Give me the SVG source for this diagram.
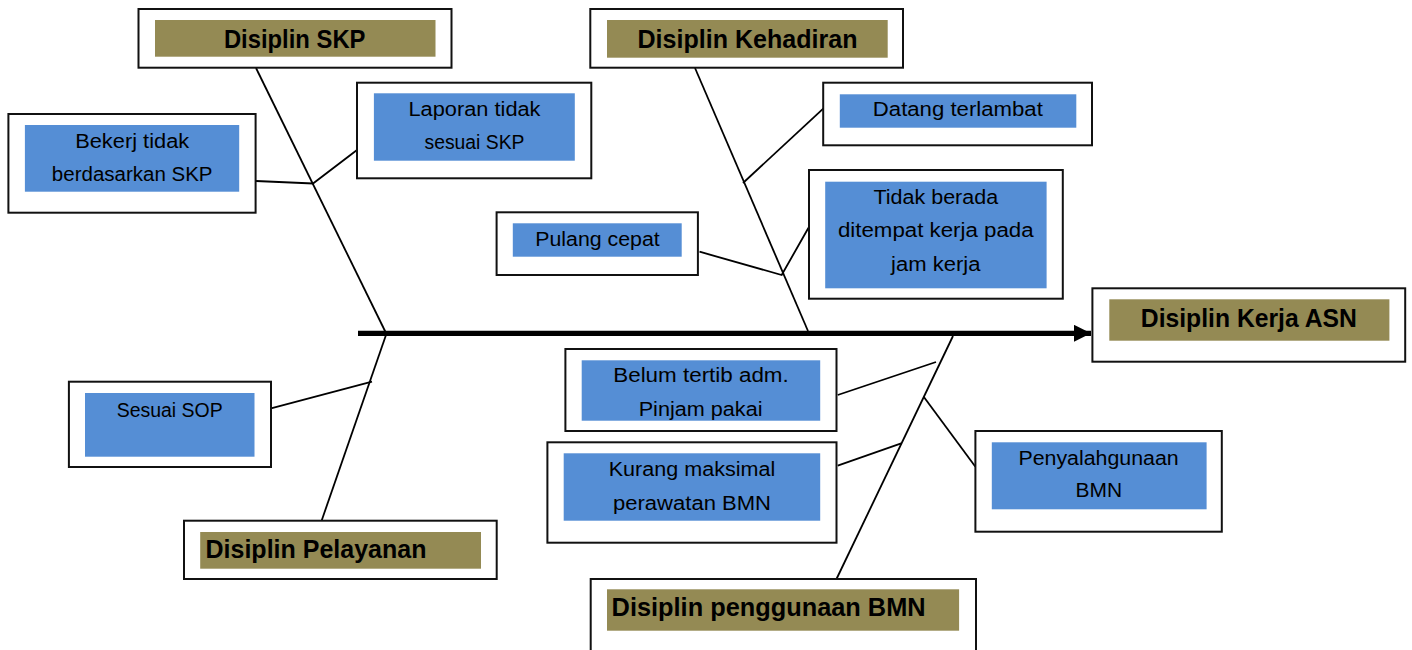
<svg xmlns="http://www.w3.org/2000/svg" width="1412" height="650" viewBox="0 0 1412 650">
<defs>
<style>
.outer{fill:#fff;stroke:#111;stroke-width:2}
.olive{fill:#948A54}
.blue{fill:#558ED5}
.t{font-family:"Liberation Sans",Arial,sans-serif;font-size:20px;fill:#000;text-anchor:middle}
.h{font-family:"Liberation Sans",Arial,sans-serif;font-size:25px;font-weight:bold;fill:#000}
.hc{text-anchor:middle}
.c{stroke:#000;stroke-width:1.8;fill:none}
</style>
<marker id="ah" markerWidth="17" markerHeight="17" refX="17" refY="8.5" orient="auto" markerUnits="userSpaceOnUse">
<path d="M0,0 L17,8.5 L0,17 Z" fill="#000"/>
</marker>
</defs>
<rect width="1412" height="650" fill="#fff"/>
<g id="connectors">
<line x1="358" y1="333.3" x2="1091" y2="333.3" stroke="#000" stroke-width="5.3" marker-end="url(#ah)"/>
<line class="c" x1="256" y1="68" x2="385.5" y2="332"/>
<line class="c" x1="386" y1="335" x2="321.5" y2="521"/>
<line class="c" x1="695" y1="68" x2="808" y2="331"/>
<line class="c" x1="953" y1="336" x2="836.5" y2="579"/>
<polyline class="c" points="256,181 313,183.5 357,150"/>
<polyline class="c" points="699.5,251.7 781.7,275 808.5,227.7"/>
<line class="c" x1="743" y1="183" x2="823.5" y2="108.3"/>
<line class="c" x1="271" y1="408.3" x2="372" y2="381.7"/>
<line class="c" x1="837.7" y1="395" x2="936" y2="362"/>
<line class="c" x1="837.7" y1="465.7" x2="901.2" y2="443.3"/>
<line class="c" x1="923.7" y1="396.7" x2="975.4" y2="466.7"/>
</g>
<g id="disiplin-skp">
<rect class="outer" x="138.5" y="9" width="313" height="58.7"/>
<rect class="olive" x="155" y="20" width="280.5" height="36.7"/>
<text class="h hc" x="294.7" y="48.3" textLength="141.6" lengthAdjust="spacingAndGlyphs">Disiplin SKP</text>
</g>
<g id="disiplin-kehadiran">
<rect class="outer" x="590.3" y="9" width="312.7" height="58.7"/>
<rect class="olive" x="607" y="20" width="280.7" height="37.7"/>
<text class="h hc" x="747.5" y="48.3" textLength="220" lengthAdjust="spacingAndGlyphs">Disiplin Kehadiran</text>
</g>
<g id="disiplin-kerja-asn">
<rect class="outer" x="1092.4" y="288.3" width="312.8" height="73.4"/>
<rect class="olive" x="1109.3" y="299.3" width="280.1" height="41.4"/>
<text class="h hc" x="1248.8" y="326.7" textLength="216" lengthAdjust="spacingAndGlyphs">Disiplin Kerja ASN</text>
</g>
<g id="disiplin-pelayanan">
<rect class="outer" x="184" y="520.7" width="312.7" height="58.3"/>
<rect class="olive" x="200.2" y="532" width="280.8" height="36.7"/>
<text class="h" x="205.5" y="558.3" textLength="221" lengthAdjust="spacingAndGlyphs">Disiplin Pelayanan</text>
</g>
<g id="disiplin-penggunaan-bmn">
<rect class="outer" x="590.7" y="579" width="385.3" height="80"/>
<rect class="olive" x="607" y="589.3" width="352.1" height="41.4"/>
<text class="h" x="611.6" y="616" textLength="314" lengthAdjust="spacingAndGlyphs">Disiplin penggunaan BMN</text>
</g>
<g id="bekerj-tidak">
<rect class="outer" x="8.4" y="114" width="247.2" height="98.7"/>
<rect class="blue" x="24.9" y="125" width="214.3" height="66.7"/>
<text class="t" x="132.2" y="147.7" textLength="114" lengthAdjust="spacingAndGlyphs">Bekerj tidak</text>
<text class="t" x="132.2" y="181" textLength="160.7" lengthAdjust="spacingAndGlyphs">berdasarkan SKP</text>
</g>
<g id="laporan-tidak">
<rect class="outer" x="357" y="82.7" width="234.3" height="95.6"/>
<rect class="blue" x="373.9" y="93.3" width="200.9" height="67.4"/>
<text class="t" x="474.5" y="115.7" textLength="132" lengthAdjust="spacingAndGlyphs">Laporan tidak</text>
<text class="t" x="474.5" y="149.3" textLength="100" lengthAdjust="spacingAndGlyphs">sesuai SKP</text>
</g>
<g id="datang-terlambat">
<rect class="outer" x="823.2" y="82.7" width="268.8" height="62.6"/>
<rect class="blue" x="839.8" y="94.3" width="236.5" height="33.4"/>
<text class="t" x="957.8" y="116" textLength="170" lengthAdjust="spacingAndGlyphs">Datang terlambat</text>
</g>
<g id="tidak-berada">
<rect class="outer" x="809" y="170" width="253.8" height="128.7"/>
<rect class="blue" x="825.2" y="181.7" width="221.4" height="106.6"/>
<text class="t" x="935.8" y="204" textLength="124.6" lengthAdjust="spacingAndGlyphs">Tidak berada</text>
<text class="t" x="935.8" y="237.3" textLength="195.7" lengthAdjust="spacingAndGlyphs">ditempat kerja pada</text>
<text class="t" x="935.8" y="270.7" textLength="89.4" lengthAdjust="spacingAndGlyphs">jam kerja</text>
</g>
<g id="pulang-cepat">
<rect class="outer" x="496.6" y="212.3" width="201.3" height="62.7"/>
<rect class="blue" x="512.8" y="223.3" width="168.9" height="33.4"/>
<text class="t" x="597.5" y="246" textLength="124.5" lengthAdjust="spacingAndGlyphs">Pulang cepat</text>
</g>
<g id="sesuai-sop">
<rect class="outer" x="68.9" y="381.7" width="202.1" height="85.3"/>
<rect class="blue" x="85" y="393" width="169.5" height="63.7"/>
<text class="t" x="169.7" y="416.7" textLength="106" lengthAdjust="spacingAndGlyphs">Sesuai SOP</text>
</g>
<g id="belum-tertib">
<rect class="outer" x="565.4" y="349" width="271.1" height="82"/>
<rect class="blue" x="581.7" y="360.3" width="238.5" height="60.4"/>
<text class="t" x="701" y="381.7" textLength="175.5" lengthAdjust="spacingAndGlyphs">Belum tertib adm.</text>
<text class="t" x="700.6" y="415.7" textLength="123.8" lengthAdjust="spacingAndGlyphs">Pinjam pakai</text>
</g>
<g id="kurang-maksimal">
<rect class="outer" x="547.4" y="442.3" width="289.1" height="100.4"/>
<rect class="blue" x="563.7" y="453.3" width="256.5" height="67.4"/>
<text class="t" x="692" y="476" textLength="166.5" lengthAdjust="spacingAndGlyphs">Kurang maksimal</text>
<text class="t" x="692" y="510" textLength="158" lengthAdjust="spacingAndGlyphs">perawatan BMN</text>
</g>
<g id="penyalahgunaan">
<rect class="outer" x="975.4" y="431" width="246.4" height="100.7"/>
<rect class="blue" x="991.8" y="442.3" width="214.8" height="67"/>
<text class="t" x="1098.6" y="465" textLength="160.3" lengthAdjust="spacingAndGlyphs">Penyalahgunaan</text>
<text class="t" x="1098.9" y="497.3" textLength="46.6" lengthAdjust="spacingAndGlyphs">BMN</text>
</g>
</svg>
